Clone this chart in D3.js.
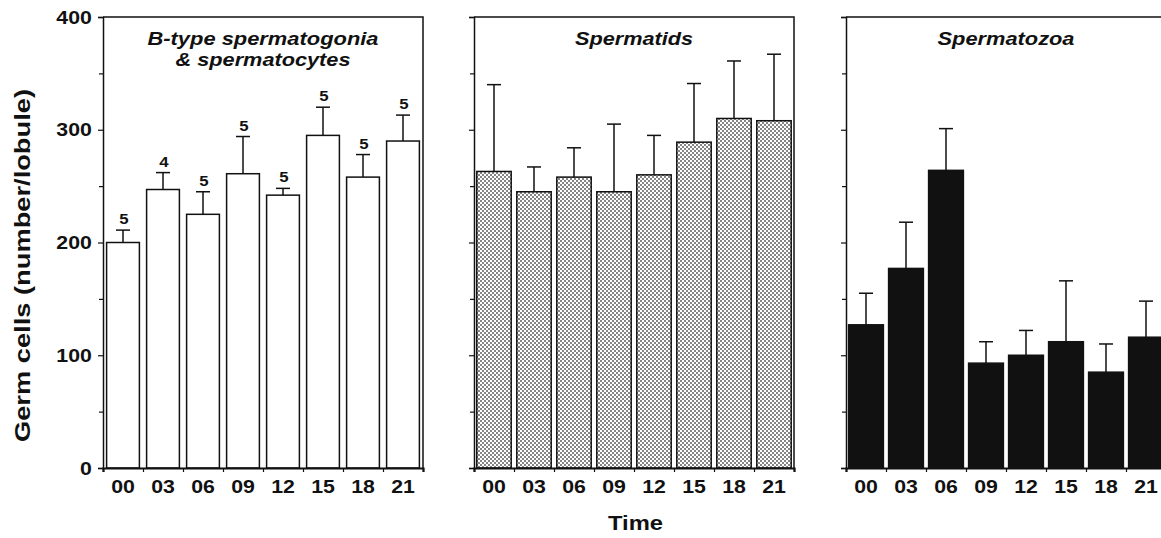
<!DOCTYPE html>
<html>
<head>
<meta charset="utf-8">
<script src="https://cdn.jsdelivr.net/npm/d3@7"></script>
<style>
  body { margin: 0; background: #fff; }
  text { font-family: "Liberation Sans", Arial, sans-serif; font-weight: bold; fill: #111; }
</style>
</head>
<body>
<div id="chart"></div>
<script>
// sampling times (h)
var times = ["00", "03", "06", "09", "12", "15", "18", "21"];

// B-type spermatogonia & spermatocytes
var bMeans = [200, 247, 225, 261, 242, 295, 258, 290];
var bErr   = [11, 15, 20, 33, 6, 25, 20, 23];
var bN     = [5, 4, 5, 5, 5, 5, 5, 5];

// spermatids
var tidMeans = [263, 245, 258, 245, 260, 289, 310, 308];
var tidErr   = [77, 22, 26, 60, 35, 52, 51, 59];

// spermatozoa
var zoaMeans = [127, 177, 264, 93, 100, 112, 85, 116];
var zoaErr   = [28, 41, 37, 19, 22, 54, 25, 32];

var yTicks = [0, 50, 100, 150, 200, 250, 300, 350, 400];

var W = 1161, H = 538;
var top0 = 17, base = 468, pw = 320;
var stretch = 1.12;

var svg = d3.select("#chart").append("svg")
    .attr("width", W)
    .attr("height", H);

// dotted screen for the spermatid bars
var defs = svg.append("defs");
var pat = defs.append("pattern")
    .attr("id", "dots")
    .attr("patternUnits", "userSpaceOnUse")
    .attr("width", 4).attr("height", 4);
pat.append("rect").attr("width", 4).attr("height", 4).attr("fill", "#fff");
pat.append("rect").attr("width", 2).attr("height", 2).attr("fill", "#858585");
pat.append("rect").attr("x", 2).attr("y", 2).attr("width", 2).attr("height", 2).attr("fill", "#858585");

var y = d3.scaleLinear().domain([0, 400]).range([base, top0]);

var panels = [
  { x0: 103, title: ["B-type spermatogonia", "& spermatocytes"], tw: [231, 175],
    means: bMeans, errs: bErr, n: bN, fill: "#fff", pad: 0.18, labels: true },
  { x0: 474, title: ["Spermatids"], tw: [118],
    means: tidMeans, errs: tidErr, n: null, fill: "url(#dots)", pad: 0.14, labels: false },
  { x0: 846, title: ["Spermatozoa"], tw: [137],
    means: zoaMeans, errs: zoaErr, n: null, fill: "#111", pad: 0.13, labels: false }
];

panels.forEach(function(p) {
  var g = svg.append("g");

  var x = d3.scaleBand().domain(times)
      .range([p.x0, p.x0 + pw])
      .paddingInner(p.pad).paddingOuter(p.pad / 2);
  var edge = d3.scaleLinear().domain([0, times.length]).range([p.x0, p.x0 + pw]);

  // frame: top and right
  g.append("path")
      .attr("d", "M" + p.x0 + "," + top0 + "H" + (p.x0 + pw) + "V" + base)
      .attr("fill", "none")
      .attr("stroke", "#111")
      .attr("stroke-width", 1.5);

  // bars
  var data = times.map(function(t, i) {
    return { t: t, m: p.means[i], e: p.errs[i], n: p.n ? p.n[i] : null };
  });

  g.selectAll(".bar")
      .data(data)
      .enter().append("rect")
      .attr("class", "bar")
      .attr("x", function(d) { return x(d.t); })
      .attr("y", function(d) { return y(d.m); })
      .attr("width", x.bandwidth())
      .attr("height", function(d) { return base - y(d.m); })
      .attr("fill", p.fill)
      .attr("stroke", "#111")
      .attr("stroke-width", 1.5);

  // upper error bars
  var eb = g.selectAll(".err").data(data).enter().append("g").attr("class", "err");
  eb.append("line")
      .attr("x1", function(d) { return x(d.t) + x.bandwidth() / 2; })
      .attr("x2", function(d) { return x(d.t) + x.bandwidth() / 2; })
      .attr("y1", function(d) { return y(d.m); })
      .attr("y2", function(d) { return y(d.m + d.e); })
      .attr("stroke", "#111").attr("stroke-width", 1.5);
  eb.append("line")
      .attr("x1", function(d) { return x(d.t) + x.bandwidth() / 2 - 7; })
      .attr("x2", function(d) { return x(d.t) + x.bandwidth() / 2 + 7; })
      .attr("y1", function(d) { return y(d.m + d.e); })
      .attr("y2", function(d) { return y(d.m + d.e); })
      .attr("stroke", "#111").attr("stroke-width", 1.5);

  // n labels
  if (p.n) {
    eb.append("text")
        .attr("transform", function(d) {
          return "translate(" + (x(d.t) + x.bandwidth() / 2 + 1) + "," + (y(d.m + d.e) - 6) + ") scale(" + stretch + ",1)";
        })
        .attr("text-anchor", "middle")
        .style("font-size", "15px")
        .text(function(d) { return d.n; });
  }

  // y axis
  var yAxis = d3.axisLeft(y).tickValues(yTicks)
      .tickSize(5).tickPadding(5)
      .tickFormat(function(d) { return (p.labels && d % 100 === 0) ? d : ""; });
  var ya = g.append("g")
      .attr("transform", "translate(" + p.x0 + ",0)")
      .call(yAxis);
  ya.select(".domain").attr("stroke", "#111").attr("stroke-width", 1.5);
  ya.selectAll(".tick line").attr("stroke", "#111").attr("stroke-width", 1.2)
      .attr("x2", function(d) { return d % 100 === 0 ? -5 : -4; });
  ya.selectAll(".tick text")
      .attr("transform", "scale(" + stretch + ",1)")
      .style("font-size", "19px")
      .style("font-family", "'Liberation Sans', Arial, sans-serif")
      .style("font-weight", "bold");

  // x axis: boundary ticks + thick baseline
  var xe = g.append("g")
      .attr("transform", "translate(0," + base + ")")
      .call(d3.axisBottom(edge).tickValues(d3.range(times.length + 1)).tickSize(4).tickFormat(""));
  xe.select(".domain").attr("stroke", "#111").attr("stroke-width", 2.2);
  xe.selectAll(".tick line").attr("stroke", "#111").attr("stroke-width", 1.2);

  // x axis: time labels
  var xl = g.append("g")
      .attr("transform", "translate(0," + base + ")")
      .call(d3.axisBottom(x).tickSize(0).tickPadding(12));
  xl.select(".domain").remove();
  xl.selectAll(".tick text")
      .attr("transform", "scale(" + stretch + ",1)")
      .style("font-size", "19px")
      .style("font-family", "'Liberation Sans', Arial, sans-serif")
      .style("font-weight", "bold");

  // panel title
  p.title.forEach(function(s, i) {
    g.append("text")
        .attr("x", p.x0 + pw / 2 - p.tw[i] / 2)
        .attr("y", 45 + i * 21)
        .attr("textLength", p.tw[i])
        .attr("lengthAdjust", "spacingAndGlyphs")
        .style("font-size", "19px")
        .style("font-style", "italic")
        .text(s);
  });
});

// axis titles
svg.append("text")
    .attr("transform", "translate(30,266) rotate(-90)")
    .attr("x", -176)
    .attr("textLength", 353)
    .attr("lengthAdjust", "spacingAndGlyphs")
    .style("font-size", "22px")
    .text("Germ cells (number/lobule)");

svg.append("text")
    .attr("x", 608)
    .attr("y", 530)
    .attr("textLength", 55)
    .attr("lengthAdjust", "spacingAndGlyphs")
    .style("font-size", "21px")
    .text("Time");
</script>
</body>
</html>
